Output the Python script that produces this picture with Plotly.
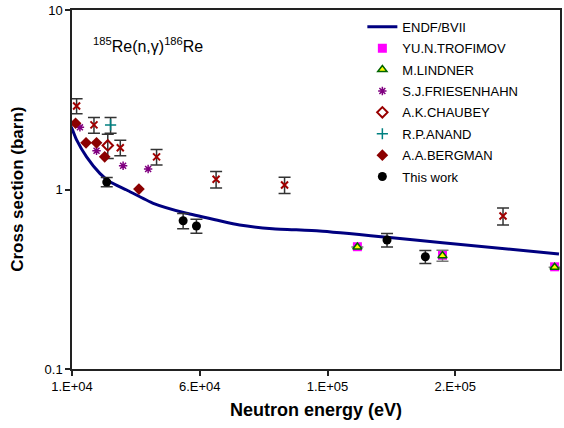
import plotly.graph_objects as go

# ENDF/B-VII evaluated capture cross section
endf_e = [8000, 10000, 11800, 15700, 20900, 24800, 31400, 41800, 54800,
          66500, 75600, 88500, 106900, 133300, 155000, 200600]
endf_s = [2.45, 2.18, 1.89, 1.52, 1.23, 1.105, 0.994, 0.838, 0.737,
          0.676, 0.634, 0.605, 0.587, 0.542, 0.505, 0.437]

# Additional measurement with uncertainties (no legend entry)
xm_e = [11800, 18600, 28900, 43100, 66400, 93200, 178700]
xm_s = [2.92, 2.29, 1.71, 1.52, 1.14, 1.06, 0.712]
xm_err = [0.28, 0.23, 0.17, 0.15, 0.12, 0.11, 0.077]

trof_e = [121700, 155000, 198900]
trof_s = [0.48, 0.43, 0.371]

lind_e = [121700, 155000, 198900]
lind_s = [0.478, 0.428, 0.369]
lind_err = [0.0, 0.03, 0.0]

fries_e = [13100, 19600, 30000, 39800]
fries_s = [2.22, 1.645, 1.357, 1.30]

chau_e = [24000]
chau_s = [1.76]
chau_err = [0.27]

anand_e = [25100]
anand_s = [2.29]
anand_err = [0.23]

berg_e = [11400, 15500, 19600, 22800, 36200]
berg_s = [2.34, 1.82, 1.82, 1.52, 1.006]

work_e = [23600, 53500, 58700, 133300, 148300]
work_s = [1.10, 0.670, 0.626, 0.523, 0.422]
work_err = [0.065, 0.065, 0.056, 0.045, 0.035]

x_tick_vals = [10000, 60000, 110000, 160000]
x_tick_text = ["1.E+04", "6.E+04", "1.E+05", "2.E+05"]
y_tick_vals = [0.1, 1, 10]
y_tick_text = ["0.1", "1", "10"]

FONT = "Arial, Liberation Sans, sans-serif"
ERR_COLOR = "#333333"


def err(vals):
    return dict(type="data", array=vals, visible=True, color=ERR_COLOR,
                thickness=1.5, width=6)


fig = go.Figure()

fig.add_trace(go.Scatter(
    x=endf_e, y=endf_s, mode="lines", name="ENDF/BVII",
    line=dict(color="#000080", width=3, shape="spline", smoothing=0.5),
    legendgroup="g1"))

fig.add_trace(go.Scatter(
    x=xm_e, y=xm_s, mode="markers", showlegend=False,
    error_y=err(xm_err), legendgroup="g0",
    marker=dict(symbol="x-thin-open", size=7, color="#A00000",
                line=dict(color="#A00000", width=2))))

fig.add_trace(go.Scatter(
    x=trof_e, y=trof_s, mode="markers", name="YU.N.TROFIMOV",
    marker=dict(symbol="square", size=9, color="#FF00FF"),
    legendgroup="g2"))

fig.add_trace(go.Scatter(
    x=lind_e, y=lind_s, mode="markers", name="M.LINDNER",
    error_y=dict(type="data", array=lind_err, visible=True, color="#777777",
                 thickness=1.5, width=6),
    marker=dict(symbol="triangle-up", size=8, color="#FFFF00",
                line=dict(color="#006400", width=1.5)),
    legendgroup="g3"))

fig.add_trace(go.Scatter(
    x=fries_e, y=fries_s, mode="markers", name="S.J.FRIESENHAHN",
    marker=dict(symbol="asterisk-open", size=7, color="#800080",
                line=dict(color="#800080", width=1.5)),
    legendgroup="g4"))

fig.add_trace(go.Scatter(
    x=chau_e, y=chau_s, mode="markers", name="A.K.CHAUBEY",
    error_y=err(chau_err),
    marker=dict(symbol="diamond-open", size=8, color="#990000",
                line=dict(color="#990000", width=2)),
    legendgroup="g5"))

fig.add_trace(go.Scatter(
    x=anand_e, y=anand_s, mode="markers", name="R.P.ANAND",
    error_y=err(anand_err),
    marker=dict(symbol="cross-thin-open", size=8, color="#008080",
                line=dict(color="#008080", width=1.5)),
    legendgroup="g6"))

fig.add_trace(go.Scatter(
    x=berg_e, y=berg_s, mode="markers", name="A.A.BERGMAN",
    marker=dict(symbol="diamond", size=9, color="#8B0000"),
    legendgroup="g7"))

fig.add_trace(go.Scatter(
    x=work_e, y=work_s, mode="markers", name="This work",
    error_y=err(work_err),
    marker=dict(symbol="circle", size=9, color="#000000"),
    legendgroup="g8"))

fig.update_layout(
    width=564, height=428,
    margin=dict(l=72, r=2, t=10, b=59),
    paper_bgcolor="white", plot_bgcolor="white",
    font=dict(family=FONT, size=13, color="black"),
    showlegend=True,
    legend=dict(x=0.595, y=0.995, xanchor="left", yanchor="top",
                bgcolor="rgba(0,0,0,0)", borderwidth=0,
                font=dict(family=FONT, size=13, color="black"),
                tracegroupgap=1.5, traceorder="grouped"),
    annotations=[
        dict(text="<sup>185</sup>Re(n,γ)<sup>186</sup>Re",
             xref="paper", yref="paper", x=0.155, y=0.9025,
             xanchor="center", yanchor="middle", showarrow=False,
             font=dict(family=FONT, size=16, color="black")),
        dict(text="<b>Neutron energy (eV)</b>",
             xref="paper", yref="paper", x=0.5, y=-0.115,
             xanchor="center", yanchor="middle", showarrow=False,
             font=dict(family=FONT, size=18, color="black")),
        dict(text="<b>Cross section (barn)</b>",
             xref="paper", yref="paper", x=-0.112, y=0.5,
             xanchor="center", yanchor="middle", showarrow=False,
             textangle=-90,
             font=dict(family=FONT, size=17, color="black")),
    ],
)

fig.update_xaxes(
    range=[10000, 201000], tickmode="array",
    tickvals=x_tick_vals, ticktext=x_tick_text,
    ticks="outside", ticklen=5, tickwidth=1.5, tickcolor="#222",
    showline=True, linecolor="#222", linewidth=1.5, mirror=True,
    showgrid=False, zeroline=False,
    tickfont=dict(family=FONT, size=13, color="black"))

fig.update_yaxes(
    type="log", range=[-1, 1], tickmode="array",
    tickvals=y_tick_vals, ticktext=y_tick_text,
    ticks="outside", ticklen=5, tickwidth=1.5, tickcolor="#222",
    showline=True, linecolor="#222", linewidth=1.5, mirror=True,
    showgrid=False, zeroline=False,
    tickfont=dict(family=FONT, size=13, color="black"))

fig.write_html("out.html")
